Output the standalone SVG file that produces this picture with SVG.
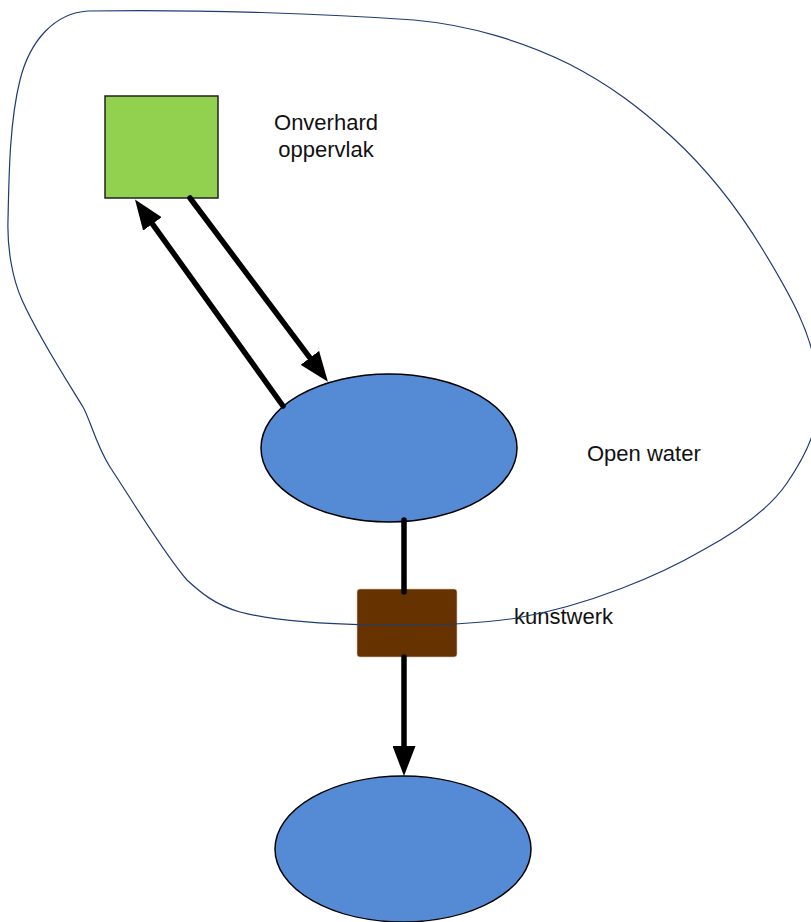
<svg xmlns="http://www.w3.org/2000/svg" width="811" height="922" viewBox="0 0 811 922">
  <style>
    .label { font-family: "Liberation Sans", Arial, sans-serif; font-size: 22px; fill: #111111; }
    .water { fill: #558bd4; stroke: #000000; stroke-width: 1.5; }
    .flow { stroke: #000000; stroke-width: 5.5; stroke-linecap: round; fill: none; }
    .region { fill: none; stroke: #1f3b73; stroke-width: 1.2; }
  </style>
  <defs>
    <marker id="arrowhead" markerUnits="userSpaceOnUse" viewBox="0 0 30 23" markerWidth="30" markerHeight="23" refX="2" refY="11.5" orient="auto">
      <path d="M0,0 L30,11.5 L0,23 Z" fill="#000000"/>
    </marker>
  </defs>

  <rect width="811" height="922" fill="#ffffff"/>

  <!-- unpaved surface -->
  <g id="onverhard">
    <rect x="105" y="96" width="113" height="102" fill="#92d050" stroke="#222222" stroke-width="1.5"/>
    <text class="label" x="326" y="130" text-anchor="middle">Onverhard</text>
    <text class="label" x="326" y="157" text-anchor="middle">oppervlak</text>
  </g>

  <!-- open water inside the area -->
  <g id="open-water">
    <ellipse class="water" cx="389" cy="448" rx="128" ry="74"/>
    <text class="label" x="587" y="461">Open water</text>
  </g>

  <!-- structure (weir / pump) -->
  <g id="kunstwerk">
    <rect x="357" y="589" width="100" height="68" rx="3" fill="#663300" stroke="#d9c3ad" stroke-width="0.6"/>
    <text class="label" x="514" y="624">kunstwerk</text>
  </g>

  <!-- downstream water -->
  <g id="downstream-water">
    <ellipse class="water" cx="403" cy="849" rx="128" ry="73"/>
  </g>

  <g id="connectors">
    <line class="flow" x1="190" y1="198" x2="311.1" y2="359.4" marker-end="url(#arrowhead)"/>
    <line class="flow" x1="283" y1="406" x2="151.3" y2="222.3" marker-end="url(#arrowhead)"/>
    <line class="flow" x1="404" y1="520" x2="404" y2="592"/>
    <line class="flow" x1="404" y1="657" x2="404" y2="748" marker-end="url(#arrowhead)"/>
  </g>

  <!-- area boundary -->
  <g id="gebied">
    <path class="region" d="M88,11
      C200,9 330,14 414,20
      C470,25 525,42 569,64
      C610,85 640,108 672,137
      C710,172 740,212 763,250
      C786,288 815,335 818,385
      C821,425 808,452 787,483
      C770,508 740,530 703,550
      C660,575 590,605 517,618
      C470,625 420,626 370,625
      C320,624 270,620 240,612
      C215,605 200,592 187,580
      C165,555 135,505 110,467
      C96,445 90,419 83,407
      C76,395 40,340 22,300
      C13,280 7,250 8,220
      C9,170 10,120 20,80
      C30,40 55,13 88,11 Z"/>
  </g>
</svg>
